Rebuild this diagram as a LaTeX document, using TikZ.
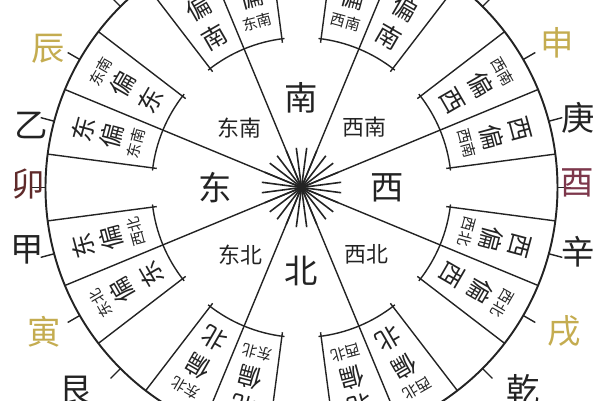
\documentclass[tikz,border=0pt]{standalone}
\usepackage{fontspec}
\setmainfont{Noto Sans CJK SC}
\definecolor{strich}{RGB}{35,35,35}
\definecolor{gelb}{RGB}{196,172,80}
\definecolor{rotbraun}{RGB}{95,42,42}
\definecolor{rosa}{RGB}{125,55,75}
\begin{document}
\begin{tikzpicture}[x=0.02cm, y=0.02cm,
	linie/.style={line width=0.8pt, draw=strich},
	kreis/.style={line width=1.1pt, draw=strich},
	strahl/.style={line width=0.9pt, draw=strich},
	berg/.style={inner sep=0pt, font=\fontsize{19}{19}\selectfont},
	richtung/.style={inner sep=0pt, text=strich, font=\fontsize{19}{19}\selectfont},
	zwischen/.style={inner sep=0pt, text=strich, font=\fontsize{12.5}{12.5}\selectfont},
	feldgross/.style={inner sep=0pt, text=strich, font=\fontsize{14}{14}\selectfont},
	feldklein/.style={inner sep=0pt, text=strich, font=\fontsize{8.5}{8.5}\selectfont}]
	\useasboundingbox (0,0) rectangle (600,400);
	\clip (0,0) rectangle (600,400);
	\begin{scope}[shift={(301.5,212.5)}]
	\coordinate (M) at (0,0);
	% Aussenkreis
	\draw[kreis] (M) circle[radius=256];
	% Strahlen in der Mitte
	\foreach \k in {0,...,23}
		\draw[strahl] (M) -- (7.5+15*\k:40);
	% Speichen und Felder
	\foreach \s in {22.5,67.5,...,337.5} {
		\draw[linie] (M) -- (\s:256);
		\draw[linie] (\s-15:146) -- (\s-15:256);
		\draw[linie] (\s+15:146) -- (\s+15:256);
		\draw[linie] (\s-16:150) arc[start angle=\s-16, end angle=\s+16, radius=150];
	}
	% Striche zu den Bergen
	\foreach \w in {135,150,...,225,-45,-30,...,45}
		\draw[linie] (\w:256) -- (\w:270);
	% Berge aussen
	\foreach \w/\r/\z/\f [count=\i] in {137.6/300/巽/strich, 151.2/289/辰/gelb,
		167/277/乙/strich, 179.3/273/卯/rotbraun, 192.8/281/甲/strich,
		209.3/295/寅/gelb, 222/303/艮/strich, 42.4/300/坤/strich,
		29.4/294/申/gelb, 14.1/285/庚/strich, 0.9/276/酉/rosa,
		-13.1/284/辛/strich, -28.7/300/戌/gelb, -42.4/300/乾/strich}
		\node[berg, text=\f] (berg\i) at (\w:\r) {\z};
	% Hauptrichtungen
	\node[richtung] (sued) at (90:90) {南};
	\node[richtung] (nord) at (270:83) {北};
	\node[richtung] (ost) at (180:86) {东};
	\node[richtung] (west) at (0:86) {西};
	\node[zwischen] (suedost) at (136:86) {东南};
	\node[zwischen] (suedwest) at (44:87) {西南};
	\node[zwischen] (nordost) at (228:91) {东北};
	\node[zwischen] (nordwest) at (314:93) {西北};
	% Felder: Hauptzeichen aussen
	\foreach \w/\g/\k [count=\i] in {15/西/西南, 75/南/西南, 105/南/东南, 165/东/东南,
		195/东/西北, 255/北/东北, 285/北/西北, 345/西/西北} {
		\node[feldgross, rotate=\w-90] (aussen\i) at (\w:226) {\g};
		\node[feldgross, rotate=\w-90] (apian\i) at (\w:197) {偏};
		\node[feldklein, rotate=\w-90] (aklein\i) at (\w:171) {\k};
	}
	% Felder: Zwischenrichtung aussen
	\foreach \w/\k/\g [count=\i] in {30/西南/西, 60/西南/南, 120/东南/南, 150/东南/东,
		210/东北/东, 240/东北/北, 300/西北/北, 330/西北/西} {
		\node[feldklein, rotate=\w-90] (bklein\i) at (\w:232) {\k};
		\node[feldgross, rotate=\w-90] (bpian\i) at (\w:207) {偏};
		\node[feldgross, rotate=\w-90] (innen\i) at (\w:174) {\g};
	}
	\end{scope}
\end{tikzpicture}
\end{document}
